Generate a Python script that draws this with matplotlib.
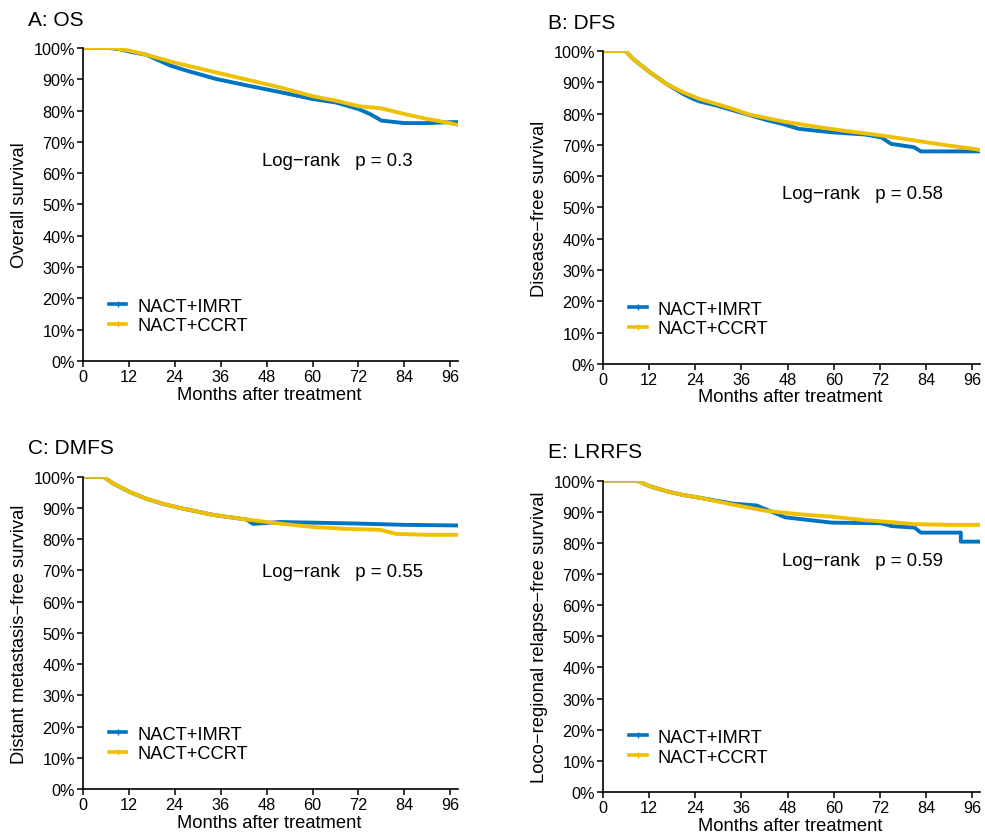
import matplotlib
matplotlib.use("Agg")
import matplotlib.pyplot as plt
from matplotlib.lines import Line2D
from matplotlib.ticker import MultipleLocator, FuncFormatter

plt.rcParams["font.family"] = ["Liberation Sans", "DejaVu Sans"]

BLUE = "#0073C2"
GOLD = "#EFC000"
groups = ["NACT+IMRT", "NACT+CCRT"]

# A: OS  (months, survival %)
os_t_imrt = [0, 7, 10, 12.3, 16.7, 19, 22.8, 27, 34.8, 43, 51.5, 60, 66, 72, 75, 78, 84, 90, 96, 98]
os_s_imrt = [100, 100, 99.5, 98.8, 97.8, 96.5, 94.4, 92.8, 90.1, 88.0, 85.9, 83.7, 82.6, 80.5, 78.9, 76.8, 76.0, 76.0, 76.3, 76.3]
os_t_ccrt = [0, 8, 12.3, 17.6, 23.7, 34.8, 42.8, 51.5, 60, 66, 72, 78, 84, 90, 96, 98]
os_s_ccrt = [100, 100, 99.1, 97.5, 95.4, 92.2, 89.9, 87.4, 84.6, 83.2, 81.4, 80.7, 78.9, 77.3, 76.0, 75.4]

# B: DFS
dfs_t_imrt = [0, 5.8, 7.9, 12.2, 16.5, 20.8, 23.4, 25, 29.4, 42.3, 46.6, 50.9, 59.5, 68, 72.3, 74.9, 80.9, 82.6, 90, 98]
dfs_s_imrt = [100, 100, 97.4, 93.2, 89.5, 86.3, 84.7, 83.9, 82.6, 78.0, 76.7, 75.1, 74.0, 73.3, 72.4, 70.3, 69.2, 67.9, 67.9, 67.9]
dfs_t_ccrt = [0, 5.8, 7.9, 12.2, 16.5, 20.8, 25, 29.4, 33.7, 38, 46.6, 55.2, 63.7, 72.3, 80.9, 89.5, 96.4, 98]
dfs_s_ccrt = [100, 100, 97.4, 93.2, 89.5, 86.8, 84.7, 83.1, 81.5, 79.7, 77.5, 75.8, 74.3, 73.0, 71.4, 69.8, 68.7, 68.3]

# C: DMFS
dmfs_t_imrt = [0, 5.4, 8, 12.3, 16.7, 21, 25.4, 34, 42.8, 44.5, 51.5, 60, 72, 84, 98]
dmfs_s_imrt = [100, 100, 97.8, 95.1, 92.9, 91.3, 90.0, 87.8, 86.3, 84.9, 85.5, 85.3, 85.0, 84.6, 84.4]
dmfs_t_ccrt = [0, 5.4, 8, 12.3, 16.7, 21, 25.4, 34, 42.8, 51.5, 60.2, 68.9, 77.6, 81.9, 90, 98]
dmfs_s_ccrt = [100, 100, 97.8, 95.1, 92.9, 91.3, 90.0, 87.8, 86.3, 85.0, 83.9, 83.3, 83.0, 81.7, 81.4, 81.4]

# E: LRRFS
lrrfs_t_imrt = [0, 8.8, 12.2, 16.5, 20.8, 25.1, 32, 33.7, 40, 42.3, 47.4, 59.5, 72.3, 75, 81, 82.6, 93, 93, 98]
lrrfs_s_imrt = [100, 100, 98.2, 96.6, 95.4, 94.5, 93.0, 92.6, 92.0, 90.8, 88.2, 86.5, 86.3, 85.4, 84.9, 83.3, 83.3, 80.4, 80.4]
lrrfs_t_ccrt = [0, 8.8, 12.2, 16.5, 20.8, 25.1, 33.7, 42.3, 50.9, 59.5, 68, 76.6, 81, 90, 98]
lrrfs_s_ccrt = [100, 100, 98.2, 96.6, 95.4, 94.5, 92.3, 90.3, 89.2, 88.4, 87.3, 86.5, 86.0, 85.8, 85.8]

panels = [
    ("A: OS", "Overall survival", "0.3", os_t_imrt, os_s_imrt, os_t_ccrt, os_s_ccrt),
    ("B: DFS", "Disease\u2212free survival", "0.58", dfs_t_imrt, dfs_s_imrt, dfs_t_ccrt, dfs_s_ccrt),
    ("C: DMFS", "Distant metastasis\u2212free survival", "0.55", dmfs_t_imrt, dmfs_s_imrt, dmfs_t_ccrt, dmfs_s_ccrt),
    ("E: LRRFS", "Loco\u2212regional relapse\u2212free survival", "0.59", lrrfs_t_imrt, lrrfs_s_imrt, lrrfs_t_ccrt, lrrfs_s_ccrt),
]

# axes boxes in figure fraction (left, bottom, width, height)
boxes = [
    (0.084, 0.5675, 0.381, 0.374),
    (0.612, 0.564, 0.383, 0.374),
    (0.084, 0.0562, 0.381, 0.373),
    (0.612, 0.0526, 0.383, 0.372),
]
text_pos = [(0.478, 0.639), (0.476, 0.543), (0.478, 0.696), (0.476, 0.743)]

fig = plt.figure(figsize=(9.85, 8.37), dpi=100)

for i, (title, ylab, p, t1, s1, t2, s2) in enumerate(panels):
    ax = fig.add_axes(boxes[i])
    ax.plot(t1, s1, color=BLUE, lw=2.8, solid_joinstyle="round")
    ax.plot(t2, s2, color=GOLD, lw=2.8, solid_joinstyle="round")
    ax.set_xlim(0, 98)
    ax.set_ylim(0, 100)
    ax.xaxis.set_major_locator(MultipleLocator(12))
    ax.yaxis.set_major_locator(MultipleLocator(10))
    ax.yaxis.set_major_formatter(FuncFormatter(lambda v, _: f"{int(round(v))}%"))
    for side in ["top", "right"]:
        ax.spines[side].set_visible(False)
    for side in ["left", "bottom"]:
        ax.spines[side].set_linewidth(1.2)
    ax.tick_params(direction="out", length=4, width=1.1, labelsize=11.7, pad=1.5)
    ax.margins(0)

    handles = [Line2D([], [], color=BLUE, lw=2.6, marker="+", ms=5, mew=1),
               Line2D([], [], color=GOLD, lw=2.6, marker="+", ms=5, mew=1)]
    ax.legend(handles, groups, loc="lower left", bbox_to_anchor=(0.07, 0.085),
              frameon=False, fontsize=13.2, handlelength=0.95, handletextpad=0.6,
              labelspacing=0.15, borderpad=0, borderaxespad=0)

    ax.text(text_pos[i][0], text_pos[i][1], "Log\u2212rank   p = " + p,
            transform=ax.transAxes, fontsize=13.4, va="center", ha="left")

    bx = boxes[i]
    col = 0 if bx[0] < 0.5 else 1
    top = bx[1] + bx[3]
    fig.text([28 / 985, 548 / 985][col], top + 0.0345, title, fontsize=15,
             va="center", ha="left")
    fig.text([20 / 985, 539 / 985][col], bx[1] + bx[3] / 2, ylab, fontsize=13.2,
             rotation=90, va="center", ha="center")
    fig.text(bx[0] + bx[2] * 0.497, bx[1] - 0.0395, "Months after treatment",
             fontsize=13.2, va="center", ha="center")

fig.savefig("out.png", dpi=100)
